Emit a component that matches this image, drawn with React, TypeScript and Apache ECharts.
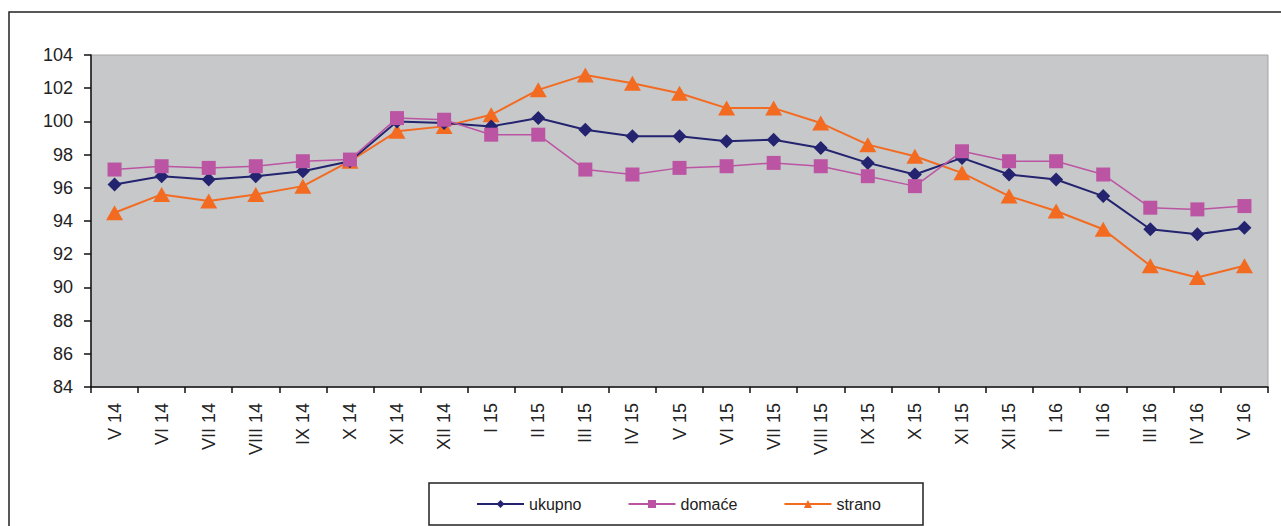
import React, { useEffect, useRef } from "react";
import * as echarts from "echarts";

const categories = [
  "V 14", "VI 14", "VII 14", "VIII 14", "IX 14", "X 14", "XI 14", "XII 14",
  "I 15", "II 15", "III 15", "IV 15", "V 15", "VI 15", "VII 15", "VIII 15",
  "IX 15", "X 15", "XI 15", "XII 15", "I 16", "II 16", "III 16", "IV 16", "V 16",
];

const ukupno = [
  96.2, 96.7, 96.5, 96.7, 97.0, 97.6, 100.0, 99.9, 99.7, 100.2, 99.5, 99.1, 99.1,
  98.8, 98.9, 98.4, 97.5, 96.8, 97.8, 96.8, 96.5, 95.5, 93.5, 93.2, 93.6,
];

const domace = [
  97.1, 97.3, 97.2, 97.3, 97.6, 97.7, 100.2, 100.1, 99.2, 99.2, 97.1, 96.8, 97.2,
  97.3, 97.5, 97.3, 96.7, 96.1, 98.2, 97.6, 97.6, 96.8, 94.8, 94.7, 94.9,
];

const strano = [
  94.5, 95.6, 95.2, 95.6, 96.1, 97.6, 99.4, 99.7, 100.4, 101.9, 102.8, 102.3, 101.7,
  100.8, 100.8, 99.9, 98.6, 97.9, 96.9, 95.5, 94.6, 93.5, 91.3, 90.6, 91.3,
];

const yTicks = { min: 84, max: 104, interval: 2 };

const FONT = 'Arial, "Liberation Sans", sans-serif';

export default function App() {
  const ref = useRef<HTMLDivElement>(null);

  useEffect(() => {
    if (!ref.current) return;
    const chart = echarts.init(ref.current, null, { renderer: "svg" });
    chart.setOption({
      animation: false,
      backgroundColor: "#ffffff",
      graphic: [
        {
          type: "rect",
          shape: { x: 9, y: 12, width: 1300, height: 540 },
          style: { fill: "none", stroke: "#222222", lineWidth: 1.5 },
          z: 0,
        },
        {
          type: "rect",
          shape: { x: 429, y: 483, width: 494, height: 42 },
          style: { fill: "#ffffff", stroke: "#222222", lineWidth: 1.5 },
          z: 0,
        },
      ],
      grid: {
        left: 91,
        top: 55,
        width: 1177,
        height: 332,
        show: true,
        backgroundColor: "#c7c8ca",
        borderColor: "#a4a4a6",
        borderWidth: 1,
      },
      legend: {
        left: 476,
        top: 496,
        itemWidth: 47,
        itemHeight: 10,
        itemGap: 46,
        padding: 0,
        textStyle: { fontFamily: FONT, fontSize: 16, color: "#222222", padding: [0, 0, 0, 0] },
        data: ["ukupno", "domaće", "strano"],
      },
      xAxis: {
        type: "category",
        data: categories,
        boundaryGap: true,
        axisLine: { show: true, lineStyle: { color: "#111111", width: 1.5 } },
        axisTick: { show: true, length: 6, inside: false, lineStyle: { color: "#111111", width: 1.5 } },
        axisLabel: {
          rotate: 90,
          interval: 0,
          margin: 16,
          fontFamily: FONT,
          fontSize: 18,
          color: "#222222",
        },
        splitLine: { show: false },
      },
      yAxis: {
        type: "value",
        min: yTicks.min,
        max: yTicks.max,
        interval: yTicks.interval,
        axisLine: { show: true, lineStyle: { color: "#111111", width: 1.5 } },
        axisTick: { show: true, length: 7, lineStyle: { color: "#111111", width: 1.5 } },
        axisLabel: { margin: 18, fontFamily: FONT, fontSize: 18, color: "#222222" },
        splitLine: { show: false },
      },
      series: [
        {
          name: "ukupno",
          type: "line",
          data: ukupno,
          symbol: "diamond",
          symbolSize: 14,
          lineStyle: { color: "#23236f", width: 2 },
          itemStyle: { color: "#23236f" },
          z: 3,
        },
        {
          name: "domaće",
          type: "line",
          data: domace,
          symbol: "rect",
          symbolSize: 14,
          lineStyle: { color: "#bb55a3", width: 1.5 },
          itemStyle: { color: "#bb55a3" },
          z: 4,
        },
        {
          name: "strano",
          type: "line",
          data: strano,
          symbol: "triangle",
          symbolSize: [17, 15],
          lineStyle: { color: "#f36b21", width: 2 },
          itemStyle: { color: "#f36b21" },
          z: 2,
        },
      ],
    });
    return () => chart.dispose();
  }, []);

  return (
    <div
      ref={ref}
      style={{ position: "absolute", left: 0, top: 0, width: 1281, height: 526 }}
    />
  );
}
